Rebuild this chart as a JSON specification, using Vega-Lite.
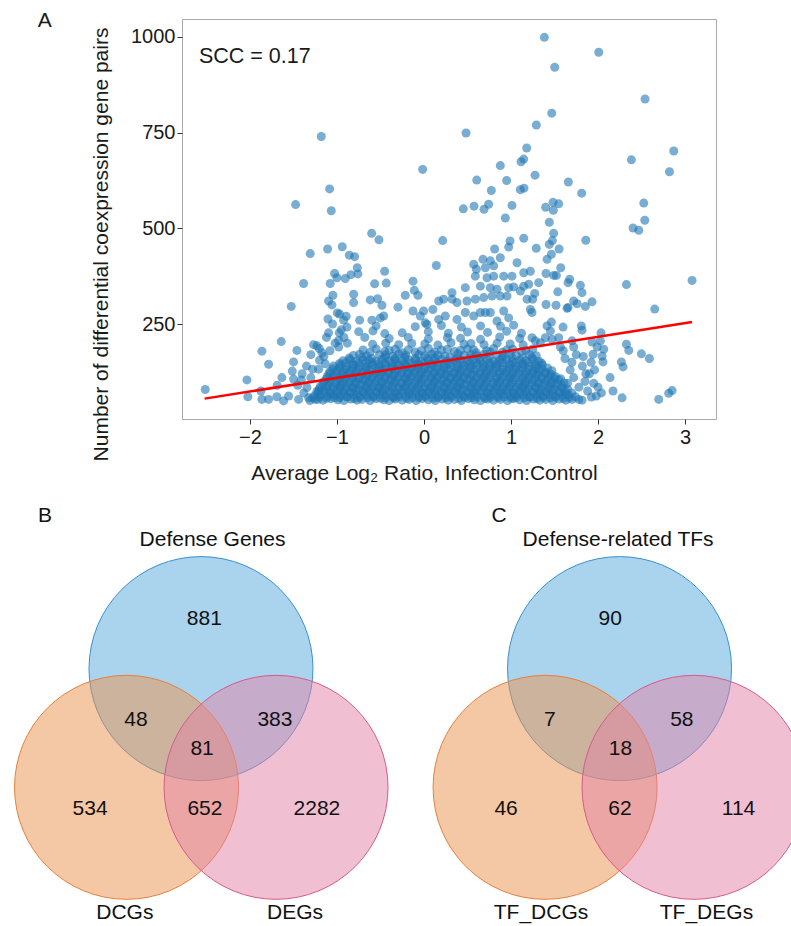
{
  "$schema": "https://vega.github.io/schema/vega-lite/v6.json",
  "background": "white",
  "padding": {"left": 12, "top": 9, "right": 0, "bottom": 0},
  "bounds": "flush",
  "spacing": 8,
  "config": {"font": "Liberation Sans", "view": {"stroke": null}},
  "datasets": {
    "scatter": [
      {"x":-1.31,"y":50},{"x":-1.22,"y":53},{"x":-1.16,"y":51},{"x":-1.07,"y":55},{"x":-0.99,"y":52},{"x":-0.92,"y":50},{"x":-0.84,"y":54},{"x":-0.77,"y":51},{"x":-0.71,"y":53},{"x":-0.62,"y":50},{"x":-0.55,"y":55},{"x":-0.46,"y":52},{"x":-0.40,"y":50},{"x":-0.33,"y":54},{"x":-0.25,"y":51},{"x":-0.17,"y":53},{"x":-0.09,"y":50},{"x":-0.02,"y":55},{"x":0.05,"y":52},{"x":0.13,"y":50},{"x":0.21,"y":54},{"x":0.28,"y":51},{"x":0.35,"y":53},{"x":0.43,"y":50},{"x":0.51,"y":55},{"x":0.58,"y":52},{"x":0.65,"y":50},{"x":0.73,"y":54},{"x":0.80,"y":51},{"x":0.88,"y":53},{"x":0.96,"y":50},{"x":1.03,"y":55},{"x":1.10,"y":52},{"x":1.18,"y":50},{"x":1.26,"y":54},{"x":1.33,"y":51},{"x":1.40,"y":53},{"x":1.48,"y":50},{"x":1.55,"y":54},{"x":1.63,"y":51},{"x":1.70,"y":53},
      {"x":-1.28,"y":57},{"x":-1.20,"y":59},{"x":-1.12,"y":56},{"x":-1.03,"y":58},{"x":-0.97,"y":57},{"x":-0.88,"y":59},{"x":-0.80,"y":56},{"x":-0.74,"y":58},{"x":-0.65,"y":57},{"x":-0.58,"y":59},{"x":-0.50,"y":56},{"x":-0.44,"y":58},{"x":-0.35,"y":57},{"x":-0.29,"y":59},{"x":-0.20,"y":56},{"x":-0.13,"y":58},{"x":-0.06,"y":57},{"x":0.02,"y":59},{"x":0.10,"y":56},{"x":0.16,"y":58},{"x":0.25,"y":57},{"x":0.31,"y":59},{"x":0.40,"y":56},{"x":0.47,"y":58},{"x":0.55,"y":57},{"x":0.61,"y":59},{"x":0.70,"y":56},{"x":0.76,"y":58},{"x":0.85,"y":57},{"x":0.92,"y":59},{"x":1.00,"y":56},{"x":1.06,"y":58},{"x":1.15,"y":57},{"x":1.22,"y":59},{"x":1.30,"y":56},{"x":1.37,"y":58},{"x":1.45,"y":57},{"x":1.51,"y":59},{"x":1.60,"y":56},{"x":1.67,"y":58},
      {"x":-1.26,"y":62},{"x":-1.19,"y":65},{"x":-1.11,"y":61},{"x":-1.04,"y":64},{"x":-0.96,"y":63},{"x":-0.89,"y":60},{"x":-0.81,"y":66},{"x":-0.74,"y":62},{"x":-0.66,"y":64},{"x":-0.59,"y":61},{"x":-0.51,"y":65},{"x":-0.44,"y":63},{"x":-0.36,"y":60},{"x":-0.29,"y":64},{"x":-0.21,"y":62},{"x":-0.14,"y":66},{"x":-0.06,"y":61},{"x":0.01,"y":63},{"x":0.09,"y":65},{"x":0.16,"y":60},{"x":0.24,"y":64},{"x":0.31,"y":62},{"x":0.39,"y":66},{"x":0.46,"y":61},{"x":0.54,"y":63},{"x":0.61,"y":65},{"x":0.69,"y":60},{"x":0.76,"y":64},{"x":0.84,"y":62},{"x":0.91,"y":66},{"x":0.99,"y":61},{"x":1.06,"y":63},{"x":1.14,"y":65},{"x":1.21,"y":60},{"x":1.29,"y":64},{"x":1.36,"y":62},{"x":1.44,"y":66},{"x":1.51,"y":61},{"x":1.59,"y":63},{"x":1.66,"y":65},{"x":1.74,"y":60},
      {"x":-1.22,"y":69},{"x":-1.14,"y":71},{"x":-1.07,"y":68},{"x":-0.99,"y":70},{"x":-0.92,"y":69},{"x":-0.84,"y":71},{"x":-0.77,"y":68},{"x":-0.69,"y":70},{"x":-0.62,"y":69},{"x":-0.54,"y":71},{"x":-0.47,"y":68},{"x":-0.39,"y":70},{"x":-0.32,"y":69},{"x":-0.24,"y":71},{"x":-0.17,"y":68},{"x":-0.09,"y":70},{"x":-0.02,"y":69},{"x":0.06,"y":71},{"x":0.13,"y":68},{"x":0.21,"y":70},{"x":0.28,"y":69},{"x":0.36,"y":71},{"x":0.43,"y":68},{"x":0.51,"y":70},{"x":0.58,"y":69},{"x":0.66,"y":71},{"x":0.73,"y":68},{"x":0.81,"y":70},{"x":0.88,"y":69},{"x":0.96,"y":71},{"x":1.03,"y":68},{"x":1.11,"y":70},{"x":1.18,"y":69},{"x":1.26,"y":71},{"x":1.33,"y":68},{"x":1.41,"y":70},{"x":1.48,"y":69},{"x":1.56,"y":71},{"x":1.63,"y":68},{"x":1.70,"y":70},
      {"x":-1.23,"y":74},{"x":-1.15,"y":77},{"x":-1.08,"y":73},{"x":-1.00,"y":76},{"x":-0.93,"y":75},{"x":-0.85,"y":72},{"x":-0.78,"y":78},{"x":-0.70,"y":74},{"x":-0.63,"y":76},{"x":-0.55,"y":73},{"x":-0.48,"y":77},{"x":-0.40,"y":75},{"x":-0.33,"y":72},{"x":-0.25,"y":76},{"x":-0.18,"y":74},{"x":-0.10,"y":78},{"x":-0.03,"y":73},{"x":0.05,"y":75},{"x":0.12,"y":77},{"x":0.20,"y":72},{"x":0.27,"y":76},{"x":0.35,"y":74},{"x":0.42,"y":78},{"x":0.50,"y":73},{"x":0.57,"y":75},{"x":0.65,"y":77},{"x":0.72,"y":72},{"x":0.80,"y":76},{"x":0.87,"y":74},{"x":0.95,"y":78},{"x":1.02,"y":73},{"x":1.10,"y":75},{"x":1.17,"y":77},{"x":1.25,"y":72},{"x":1.32,"y":76},{"x":1.40,"y":74},{"x":1.47,"y":78},{"x":1.55,"y":73},{"x":1.62,"y":75},
      {"x":-1.20,"y":81},{"x":-1.12,"y":83},{"x":-1.05,"y":80},{"x":-0.97,"y":82},{"x":-0.90,"y":81},{"x":-0.82,"y":83},{"x":-0.75,"y":80},{"x":-0.67,"y":82},{"x":-0.60,"y":81},{"x":-0.52,"y":83},{"x":-0.45,"y":80},{"x":-0.37,"y":82},{"x":-0.30,"y":81},{"x":-0.22,"y":83},{"x":-0.15,"y":80},{"x":-0.07,"y":82},{"x":0.00,"y":81},{"x":0.08,"y":83},{"x":0.15,"y":80},{"x":0.23,"y":82},{"x":0.30,"y":81},{"x":0.38,"y":83},{"x":0.45,"y":80},{"x":0.53,"y":82},{"x":0.60,"y":81},{"x":0.68,"y":83},{"x":0.75,"y":80},{"x":0.83,"y":82},{"x":0.90,"y":81},{"x":0.98,"y":83},{"x":1.05,"y":80},{"x":1.13,"y":82},{"x":1.20,"y":81},{"x":1.28,"y":83},{"x":1.35,"y":80},{"x":1.43,"y":82},{"x":1.50,"y":81},{"x":1.58,"y":83},{"x":1.65,"y":80},
      {"x":-1.19,"y":87},{"x":-1.11,"y":90},{"x":-1.04,"y":86},{"x":-0.96,"y":89},{"x":-0.89,"y":88},{"x":-0.81,"y":85},{"x":-0.74,"y":91},{"x":-0.66,"y":87},{"x":-0.59,"y":89},{"x":-0.51,"y":86},{"x":-0.44,"y":90},{"x":-0.36,"y":88},{"x":-0.29,"y":85},{"x":-0.21,"y":89},{"x":-0.14,"y":87},{"x":-0.06,"y":91},{"x":0.01,"y":86},{"x":0.09,"y":88},{"x":0.16,"y":90},{"x":0.24,"y":85},{"x":0.31,"y":89},{"x":0.39,"y":87},{"x":0.46,"y":91},{"x":0.54,"y":86},{"x":0.61,"y":88},{"x":0.69,"y":90},{"x":0.76,"y":85},{"x":0.84,"y":89},{"x":0.91,"y":87},{"x":0.99,"y":91},{"x":1.06,"y":86},{"x":1.14,"y":88},{"x":1.21,"y":90},{"x":1.29,"y":85},{"x":1.36,"y":89},{"x":1.44,"y":87},{"x":1.51,"y":91},{"x":1.59,"y":86},
      {"x":-1.16,"y":94},{"x":-1.09,"y":96},{"x":-1.01,"y":93},{"x":-0.94,"y":95},{"x":-0.86,"y":94},{"x":-0.79,"y":96},{"x":-0.71,"y":93},{"x":-0.64,"y":95},{"x":-0.56,"y":94},{"x":-0.49,"y":96},{"x":-0.41,"y":93},{"x":-0.34,"y":95},{"x":-0.26,"y":94},{"x":-0.19,"y":96},{"x":-0.11,"y":93},{"x":-0.04,"y":95},{"x":0.04,"y":94},{"x":0.11,"y":96},{"x":0.19,"y":93},{"x":0.26,"y":95},{"x":0.34,"y":94},{"x":0.41,"y":96},{"x":0.49,"y":93},{"x":0.56,"y":95},{"x":0.64,"y":94},{"x":0.71,"y":96},{"x":0.79,"y":93},{"x":0.86,"y":95},{"x":0.94,"y":94},{"x":1.01,"y":96},{"x":1.09,"y":93},{"x":1.16,"y":95},{"x":1.24,"y":94},{"x":1.31,"y":96},{"x":1.39,"y":93},{"x":1.46,"y":95},{"x":1.54,"y":94},{"x":1.61,"y":96},
      {"x":-1.15,"y":100},{"x":-1.08,"y":103},{"x":-1.00,"y":99},{"x":-0.93,"y":102},{"x":-0.85,"y":101},{"x":-0.78,"y":98},{"x":-0.70,"y":104},{"x":-0.63,"y":100},{"x":-0.55,"y":102},{"x":-0.48,"y":99},{"x":-0.40,"y":103},{"x":-0.33,"y":101},{"x":-0.25,"y":98},{"x":-0.18,"y":102},{"x":-0.10,"y":100},{"x":-0.03,"y":104},{"x":0.05,"y":99},{"x":0.12,"y":101},{"x":0.20,"y":103},{"x":0.27,"y":98},{"x":0.35,"y":102},{"x":0.42,"y":100},{"x":0.50,"y":104},{"x":0.57,"y":99},{"x":0.65,"y":101},{"x":0.72,"y":103},{"x":0.80,"y":98},{"x":0.87,"y":102},{"x":0.95,"y":100},{"x":1.02,"y":104},{"x":1.10,"y":99},{"x":1.17,"y":101},{"x":1.25,"y":103},{"x":1.32,"y":98},{"x":1.40,"y":102},{"x":1.47,"y":100},{"x":1.55,"y":104},
      {"x":-1.12,"y":107},{"x":-1.05,"y":109},{"x":-0.97,"y":106},{"x":-0.90,"y":108},{"x":-0.82,"y":107},{"x":-0.75,"y":109},{"x":-0.67,"y":106},{"x":-0.60,"y":108},{"x":-0.52,"y":107},{"x":-0.45,"y":109},{"x":-0.37,"y":106},{"x":-0.30,"y":108},{"x":-0.22,"y":107},{"x":-0.15,"y":109},{"x":-0.07,"y":106},{"x":0.00,"y":108},{"x":0.08,"y":107},{"x":0.15,"y":109},{"x":0.23,"y":106},{"x":0.30,"y":108},{"x":0.38,"y":107},{"x":0.45,"y":109},{"x":0.53,"y":106},{"x":0.60,"y":108},{"x":0.68,"y":107},{"x":0.75,"y":109},{"x":0.83,"y":106},{"x":0.90,"y":108},{"x":0.98,"y":107},{"x":1.05,"y":109},{"x":1.13,"y":106},{"x":1.20,"y":108},{"x":1.28,"y":107},{"x":1.35,"y":109},{"x":1.43,"y":106},{"x":1.50,"y":108},{"x":1.57,"y":107},
      {"x":-1.11,"y":113},{"x":-1.04,"y":116},{"x":-0.96,"y":112},{"x":-0.89,"y":115},{"x":-0.81,"y":114},{"x":-0.74,"y":111},{"x":-0.66,"y":117},{"x":-0.59,"y":113},{"x":-0.51,"y":115},{"x":-0.44,"y":112},{"x":-0.36,"y":116},{"x":-0.29,"y":114},{"x":-0.21,"y":111},{"x":-0.14,"y":115},{"x":-0.06,"y":113},{"x":0.01,"y":117},{"x":0.09,"y":112},{"x":0.16,"y":114},{"x":0.24,"y":116},{"x":0.31,"y":111},{"x":0.39,"y":115},{"x":0.46,"y":113},{"x":0.54,"y":117},{"x":0.61,"y":112},{"x":0.69,"y":114},{"x":0.76,"y":116},{"x":0.84,"y":111},{"x":0.91,"y":115},{"x":0.99,"y":113},{"x":1.06,"y":117},{"x":1.14,"y":112},{"x":1.21,"y":114},{"x":1.29,"y":116},{"x":1.36,"y":111},{"x":1.44,"y":115},{"x":1.51,"y":113},
      {"x":-1.09,"y":120},{"x":-1.01,"y":122},{"x":-0.94,"y":119},{"x":-0.86,"y":121},{"x":-0.79,"y":120},{"x":-0.71,"y":122},{"x":-0.64,"y":119},{"x":-0.56,"y":121},{"x":-0.49,"y":120},{"x":-0.41,"y":122},{"x":-0.34,"y":119},{"x":-0.26,"y":121},{"x":-0.19,"y":120},{"x":-0.11,"y":122},{"x":-0.04,"y":119},{"x":0.04,"y":121},{"x":0.11,"y":120},{"x":0.19,"y":122},{"x":0.26,"y":119},{"x":0.34,"y":121},{"x":0.41,"y":120},{"x":0.49,"y":122},{"x":0.56,"y":119},{"x":0.64,"y":121},{"x":0.71,"y":120},{"x":0.79,"y":122},{"x":0.86,"y":119},{"x":0.94,"y":121},{"x":1.01,"y":120},{"x":1.09,"y":122},{"x":1.16,"y":119},{"x":1.24,"y":121},{"x":1.31,"y":120},{"x":1.39,"y":122},{"x":1.46,"y":119},
      {"x":-1.08,"y":126},{"x":-1.00,"y":129},{"x":-0.93,"y":125},{"x":-0.85,"y":128},{"x":-0.78,"y":127},{"x":-0.70,"y":124},{"x":-0.63,"y":130},{"x":-0.55,"y":126},{"x":-0.48,"y":128},{"x":-0.40,"y":125},{"x":-0.33,"y":129},{"x":-0.25,"y":127},{"x":-0.18,"y":124},{"x":-0.10,"y":128},{"x":-0.03,"y":126},{"x":0.05,"y":130},{"x":0.12,"y":125},{"x":0.20,"y":127},{"x":0.27,"y":129},{"x":0.35,"y":124},{"x":0.42,"y":128},{"x":0.50,"y":126},{"x":0.57,"y":130},{"x":0.65,"y":125},{"x":0.72,"y":127},{"x":0.80,"y":129},{"x":0.87,"y":124},{"x":0.95,"y":128},{"x":1.02,"y":126},{"x":1.10,"y":130},{"x":1.17,"y":125},{"x":1.25,"y":127},{"x":1.32,"y":129},{"x":1.40,"y":124},{"x":1.47,"y":128},
      {"x":-1.05,"y":133},{"x":-0.97,"y":135},{"x":-0.90,"y":132},{"x":-0.82,"y":134},{"x":-0.75,"y":133},{"x":-0.67,"y":135},{"x":-0.60,"y":132},{"x":-0.52,"y":134},{"x":-0.45,"y":133},{"x":-0.37,"y":135},{"x":-0.30,"y":132},{"x":-0.22,"y":134},{"x":-0.15,"y":133},{"x":-0.07,"y":135},{"x":0.00,"y":132},{"x":0.08,"y":134},{"x":0.15,"y":133},{"x":0.23,"y":135},{"x":0.30,"y":132},{"x":0.38,"y":134},{"x":0.45,"y":133},{"x":0.53,"y":135},{"x":0.60,"y":132},{"x":0.68,"y":134},{"x":0.75,"y":133},{"x":0.83,"y":135},{"x":0.90,"y":132},{"x":0.98,"y":134},{"x":1.05,"y":133},{"x":1.13,"y":135},{"x":1.20,"y":132},{"x":1.28,"y":134},{"x":1.35,"y":133},{"x":1.42,"y":135},
      {"x":-1.04,"y":140},{"x":-0.96,"y":143},{"x":-0.89,"y":139},{"x":-0.81,"y":142},{"x":-0.74,"y":141},{"x":-0.66,"y":138},{"x":-0.59,"y":144},{"x":-0.51,"y":140},{"x":-0.44,"y":142},{"x":-0.36,"y":139},{"x":-0.29,"y":143},{"x":-0.21,"y":141},{"x":-0.14,"y":138},{"x":-0.06,"y":142},{"x":0.01,"y":140},{"x":0.09,"y":144},{"x":0.16,"y":139},{"x":0.24,"y":141},{"x":0.31,"y":143},{"x":0.39,"y":138},{"x":0.46,"y":142},{"x":0.54,"y":140},{"x":0.61,"y":144},{"x":0.69,"y":139},{"x":0.76,"y":141},{"x":0.84,"y":143},{"x":0.91,"y":138},{"x":0.99,"y":142},{"x":1.06,"y":140},{"x":1.14,"y":144},{"x":1.21,"y":139},{"x":1.29,"y":141},{"x":1.36,"y":143},
      {"x":-0.97,"y":147},{"x":-0.90,"y":149},{"x":-0.82,"y":146},{"x":-0.75,"y":148},{"x":-0.67,"y":147},{"x":-0.60,"y":149},{"x":-0.52,"y":146},{"x":-0.45,"y":148},{"x":-0.37,"y":147},{"x":-0.30,"y":149},{"x":-0.22,"y":146},{"x":-0.15,"y":148},{"x":-0.07,"y":147},{"x":0.00,"y":149},{"x":0.08,"y":146},{"x":0.15,"y":148},{"x":0.23,"y":147},{"x":0.30,"y":149},{"x":0.38,"y":146},{"x":0.45,"y":148},{"x":0.53,"y":147},{"x":0.60,"y":149},{"x":0.68,"y":146},{"x":0.75,"y":148},{"x":0.83,"y":147},{"x":0.90,"y":149},{"x":0.98,"y":146},{"x":1.05,"y":148},{"x":1.13,"y":147},{"x":1.20,"y":149},{"x":1.28,"y":146},{"x":1.35,"y":148},
      {"x":-0.93,"y":154},{"x":-0.85,"y":157},{"x":-0.78,"y":153},{"x":-0.70,"y":156},{"x":-0.63,"y":155},{"x":-0.55,"y":152},{"x":-0.48,"y":158},{"x":-0.40,"y":154},{"x":-0.33,"y":156},{"x":-0.25,"y":153},{"x":-0.18,"y":157},{"x":-0.10,"y":155},{"x":-0.03,"y":152},{"x":0.05,"y":156},{"x":0.12,"y":154},{"x":0.20,"y":158},{"x":0.27,"y":153},{"x":0.35,"y":155},{"x":0.42,"y":157},{"x":0.50,"y":152},{"x":0.57,"y":156},{"x":0.65,"y":154},{"x":0.72,"y":158},{"x":0.80,"y":153},{"x":0.87,"y":155},{"x":0.95,"y":157},{"x":1.02,"y":152},{"x":1.10,"y":156},{"x":1.17,"y":154},{"x":1.25,"y":158},{"x":1.32,"y":153},
      {"x":-0.86,"y":161},{"x":-0.71,"y":163},{"x":-0.60,"y":160},{"x":-0.45,"y":162},{"x":-0.33,"y":161},{"x":-0.22,"y":163},{"x":-0.10,"y":160},{"x":0.04,"y":162},{"x":0.13,"y":161},{"x":0.30,"y":163},{"x":0.38,"y":160},{"x":0.53,"y":162},{"x":0.64,"y":161},{"x":0.75,"y":163},{"x":0.90,"y":160},{"x":1.01,"y":162},{"x":1.13,"y":161},{"x":1.24,"y":163},
      {"x":-0.81,"y":168},{"x":-0.74,"y":171},{"x":-0.66,"y":167},{"x":-0.51,"y":170},{"x":-0.44,"y":169},{"x":-0.36,"y":166},{"x":-0.29,"y":172},{"x":-0.21,"y":168},{"x":-0.06,"y":170},{"x":0.01,"y":167},{"x":0.09,"y":171},{"x":0.16,"y":169},{"x":0.24,"y":166},{"x":0.39,"y":172},{"x":0.46,"y":168},{"x":0.54,"y":170},{"x":0.61,"y":167},{"x":0.69,"y":171},{"x":0.84,"y":169},{"x":0.91,"y":166},{"x":0.99,"y":172},{"x":1.06,"y":168},{"x":1.21,"y":170},{"x":1.29,"y":167},
      {"x":-0.62,"y":176},{"x":-0.45,"y":178},{"x":-0.25,"y":175},{"x":-0.10,"y":177},{"x":0.12,"y":176},{"x":0.35,"y":178},{"x":0.60,"y":175},{"x":0.76,"y":177},{"x":0.90,"y":176},{"x":1.12,"y":178},
      {"x":-0.70,"y":182},{"x":-0.55,"y":185},{"x":-0.40,"y":181},{"x":-0.33,"y":184},{"x":-0.18,"y":183},{"x":-0.03,"y":180},{"x":0.05,"y":186},{"x":0.20,"y":182},{"x":0.27,"y":184},{"x":0.42,"y":181},{"x":0.50,"y":185},{"x":0.57,"y":183},{"x":0.72,"y":180},{"x":0.80,"y":186},{"x":0.95,"y":182},{"x":1.02,"y":184},{"x":1.17,"y":181},{"x":1.25,"y":185},
      {"x":-0.59,"y":197},{"x":-0.44,"y":200},{"x":-0.29,"y":196},{"x":-0.14,"y":199},{"x":0.01,"y":198},{"x":0.16,"y":195},{"x":0.31,"y":201},{"x":0.46,"y":197},{"x":0.54,"y":199},{"x":0.69,"y":196},{"x":0.84,"y":200},{"x":0.99,"y":198},{"x":1.14,"y":195},
      {"x":-0.40,"y":212},{"x":-0.18,"y":215},{"x":0.05,"y":211},{"x":0.27,"y":214},{"x":0.42,"y":213},{"x":0.65,"y":210},{"x":0.87,"y":216},{"x":1.10,"y":212},
      {"x":-0.25,"y":227},{"x":0.05,"y":230},{"x":0.28,"y":226},{"x":0.50,"y":229},{"x":0.73,"y":228},{"x":0.95,"y":231},{"x":1.12,"y":226},
      {"x":-0.10,"y":243},{"x":0.20,"y":246},{"x":0.43,"y":242},{"x":0.65,"y":245},{"x":0.88,"y":244},{"x":1.03,"y":247},
      {"x":-1.18,"y":740},{"x":-0.015,"y":654},{"x":-1.084,"y":603},{"x":-1.475,"y":562},{"x":-1.065,"y":546},{"x":-0.601,"y":487},{"x":-0.517,"y":470},{"x":0.215,"y":468},{"x":-0.939,"y":452},{"x":-1.107,"y":446},{"x":-1.307,"y":434},{"x":-0.858,"y":430},{"x":-0.797,"y":426},
      {"x":1.383,"y":999},{"x":2.008,"y":960},{"x":1.502,"y":921},{"x":2.54,"y":838},{"x":1.468,"y":801},{"x":1.291,"y":770},{"x":0.483,"y":749},{"x":1.18,"y":710},{"x":1.146,"y":681},{"x":1.115,"y":674},{"x":0.877,"y":664},{"x":2.383,"y":679},{"x":2.87,"y":702},{"x":2.82,"y":648},{"x":1.276,"y":639},{"x":0.606,"y":626},{"x":0.95,"y":625},{"x":1.659,"y":621},{"x":0.774,"y":599},{"x":1.107,"y":601},{"x":1.149,"y":605},{"x":1.812,"y":592},{"x":2.525,"y":566},{"x":0.452,"y":551},{"x":0.575,"y":558},{"x":0.69,"y":550},{"x":0.743,"y":563},{"x":1.011,"y":560},{"x":1.398,"y":555},{"x":1.483,"y":568},{"x":1.548,"y":564},{"x":1.486,"y":547},{"x":2.537,"y":521},{"x":0.935,"y":527},{"x":1.44,"y":516},{"x":2.402,"y":501},{"x":2.468,"y":495},{"x":1.49,"y":487},{"x":0.989,"y":467},{"x":1.146,"y":474},{"x":1.475,"y":468},{"x":1.44,"y":458},{"x":1.859,"y":469},{"x":0.973,"y":451},{"x":0.812,"y":446},{"x":1.29,"y":448},{"x":1.552,"y":446},
      {"x":0.142,"y":403},{"x":0.571,"y":406},{"x":0.602,"y":393},{"x":0.678,"y":419},{"x":0.705,"y":397},{"x":0.762,"y":415},{"x":0.801,"y":402},{"x":0.877,"y":423},{"x":1.069,"y":410},{"x":1.464,"y":432},{"x":1.414,"y":419},{"x":1.571,"y":397},
      {"x":-0.766,"y":397},{"x":-1.027,"y":382},{"x":-1.0,"y":371},{"x":-0.904,"y":369},{"x":-0.839,"y":379},{"x":-0.759,"y":381},{"x":-0.452,"y":388},{"x":-1.383,"y":356},{"x":-1.077,"y":356},{"x":-0.567,"y":355},{"x":-0.433,"y":357},{"x":-1.046,"y":325},{"x":-0.808,"y":328},{"x":-0.617,"y":313},{"x":-0.533,"y":316},{"x":-1.525,"y":296},{"x":-1.096,"y":310},{"x":-1.057,"y":300},{"x":-0.808,"y":306},{"x":-0.299,"y":294},{"x":-0.969,"y":276},{"x":-1.103,"y":263},{"x":-0.923,"y":260},{"x":-0.739,"y":260},{"x":-0.893,"y":270},{"x":-0.996,"y":279},
      {"x":-0.126,"y":362},{"x":-0.111,"y":338},{"x":-0.069,"y":325},{"x":-0.215,"y":325},{"x":-0.483,"y":299},{"x":-0.598,"y":260},{"x":-0.502,"y":266},{"x":-0.463,"y":271},{"x":-0.042,"y":271},{"x":0.015,"y":253},{"x":0.034,"y":249},{"x":0.103,"y":288},{"x":0.169,"y":310},{"x":0.226,"y":315},{"x":0.322,"y":315},{"x":0.379,"y":306},{"x":0.169,"y":262},{"x":0.245,"y":271},{"x":0.379,"y":262},{"x":-0.126,"y":284},{"x":-0.004,"y":284},{"x":0.322,"y":332},
      {"x":0.475,"y":345},{"x":0.59,"y":375},{"x":0.724,"y":371},{"x":0.801,"y":375},{"x":0.916,"y":375},{"x":1.011,"y":375},{"x":1.146,"y":384},{"x":1.222,"y":388},{"x":0.494,"y":310},{"x":0.59,"y":315},{"x":0.686,"y":319},{"x":0.762,"y":345},{"x":0.782,"y":323},{"x":0.839,"y":341},{"x":0.877,"y":323},{"x":0.954,"y":323},{"x":0.973,"y":345},{"x":1.107,"y":336},{"x":1.146,"y":349},{"x":1.184,"y":315},{"x":1.222,"y":288},{"x":1.241,"y":280},{"x":0.475,"y":280},{"x":0.571,"y":271},{"x":0.648,"y":280},{"x":0.705,"y":280},{"x":0.762,"y":280},{"x":0.839,"y":258},{"x":0.916,"y":284},{"x":0.973,"y":266},
      {"x":1.402,"y":382},{"x":1.49,"y":377},{"x":1.521,"y":377},{"x":1.674,"y":367},{"x":1.655,"y":358},{"x":1.318,"y":358},{"x":1.797,"y":351},{"x":1.816,"y":332},{"x":1.537,"y":334},{"x":1.272,"y":330},{"x":2.326,"y":353},{"x":3.08,"y":364},{"x":1.402,"y":301},{"x":1.517,"y":299},{"x":1.644,"y":291},{"x":1.72,"y":310},{"x":1.759,"y":303},{"x":1.854,"y":296},{"x":1.931,"y":308},{"x":2.651,"y":289},{"x":1.414,"y":245},{"x":1.464,"y":255},{"x":1.452,"y":232},{"x":1.395,"y":214},{"x":1.598,"y":242},{"x":1.808,"y":245},{"x":1.816,"y":234},{"x":0.648,"y":349},{"x":1.031,"y":347},{"x":1.203,"y":354},{"x":1.249,"y":315},{"x":1.655,"y":293},
      {"x":-1.64,"y":204},{"x":-1.268,"y":196},{"x":-1.23,"y":193},{"x":-1.862,"y":179},{"x":-1.46,"y":181},{"x":-1.785,"y":145},{"x":-1.498,"y":151},{"x":-1.134,"y":146},{"x":-1.632,"y":110},{"x":-1.498,"y":106},{"x":-2.034,"y":104},{"x":-2.513,"y":79},{"x":-2.023,"y":60},{"x":-1.862,"y":53},{"x":-1.785,"y":53},{"x":-1.69,"y":60},{"x":-1.613,"y":49},{"x":-1.555,"y":62},{"x":-1.44,"y":53},{"x":-1.874,"y":75},{"x":-1.686,"y":90},{"x":-1.513,"y":127},{"x":-1.41,"y":104},{"x":-1.345,"y":84},{"x":-1.203,"y":186},{"x":-1.172,"y":175},{"x":-1.279,"y":132},{"x":-1.21,"y":132},{"x":-1.325,"y":57},{"x":-1.249,"y":53},{"x":-1.21,"y":75},{"x":-0.981,"y":207},{"x":-1.096,"y":227},{"x":-0.885,"y":242},{"x":-0.586,"y":232},{"x":-0.973,"y":227},
      {"x":2.034,"y":227},{"x":2.027,"y":206},{"x":1.931,"y":203},{"x":1.989,"y":190},{"x":2.065,"y":184},{"x":2.046,"y":166},{"x":2.057,"y":151},{"x":1.943,"y":171},{"x":2.326,"y":197},{"x":2.353,"y":181},{"x":2.498,"y":172},{"x":2.59,"y":160},{"x":2.268,"y":151},{"x":2.287,"y":138},{"x":2.138,"y":110},{"x":2.172,"y":75},{"x":2.038,"y":70},{"x":2.276,"y":57},{"x":2.697,"y":53},{"x":2.812,"y":69},{"x":2.851,"y":76},{"x":1.923,"y":59},{"x":1.816,"y":51},{"x":1.778,"y":53},{"x":1.241,"y":214},{"x":1.279,"y":206},{"x":1.337,"y":201},{"x":1.471,"y":210},{"x":1.548,"y":214},{"x":1.567,"y":190},{"x":1.701,"y":206},
      {"x":1.62,"y":160},{"x":1.7,"y":150},{"x":1.75,"y":170},{"x":1.82,"y":140},{"x":1.9,"y":120},{"x":1.95,"y":95},{"x":1.85,"y":100},{"x":1.78,"y":85},{"x":1.68,"y":130},{"x":1.88,"y":75},{"x":1.98,"y":62},{"x":1.72,"y":110},{"x":1.65,"y":95},{"x":2.0,"y":85},{"x":1.92,"y":150},{"x":1.83,"y":165},{"x":1.6,"y":180},{"x":1.72,"y":190},{"x":1.96,"y":130},{"x":1.86,"y":120},
      {"x":-1.05,"y":250},{"x":-0.95,"y":235},{"x":-1.12,"y":215},{"x":-1.02,"y":200},{"x":-0.92,"y":215},{"x":-1.15,"y":165},{"x":-1.08,"y":180},{"x":-0.98,"y":190},{"x":-0.88,"y":200},{"x":-1.2,"y":155},{"x":-1.3,"y":170},{"x":-1.35,"y":140},{"x":-1.4,"y":120},{"x":-1.3,"y":110},{"x":-1.45,"y":90},{"x":-1.38,"y":70},{"x":-0.75,"y":230},{"x":-0.68,"y":215},{"x":-0.55,"y":245},{"x":-0.45,"y":225}
    ],
    "circles": [
      {"set":"Defense Genes","grp":"top","u":0,"v":0.70},
      {"set":"DCGs","grp":"left","u":-0.665,"v":-0.36},
      {"set":"DEGs","grp":"right","u":0.67,"v":-0.36},
      {"set":"Defense-related TFs","grp":"top","u":3.737,"v":0.70},
      {"set":"TF_DCGs","grp":"left","u":3.072,"v":-0.36},
      {"set":"TF_DEGs","grp":"right","u":4.402,"v":-0.36}
    ],
    "vlabels": [
      {"label":"B","u":-1.393,"v":2.064},
      {"label":"Defense Genes","u":0.103,"v":1.85},
      {"label":"881","u":0.03,"v":1.14},
      {"label":"48","u":-0.58,"v":0.24},
      {"label":"383","u":0.66,"v":0.24},
      {"label":"81","u":0.01,"v":-0.02},
      {"label":"534","u":-0.99,"v":-0.555},
      {"label":"652","u":0.035,"v":-0.555},
      {"label":"2282","u":1.035,"v":-0.555},
      {"label":"DCGs","u":-0.68,"v":-1.48},
      {"label":"DEGs","u":0.84,"v":-1.48},
      {"label":"C","u":2.661,"v":2.064},
      {"label":"Defense-related TFs","u":3.724,"v":1.85},
      {"label":"90","u":3.654,"v":1.14},
      {"label":"7","u":3.115,"v":0.24},
      {"label":"58","u":4.293,"v":0.24},
      {"label":"18","u":3.745,"v":-0.02},
      {"label":"46","u":2.724,"v":-0.555},
      {"label":"62","u":3.741,"v":-0.555},
      {"label":"114","u":4.799,"v":-0.555},
      {"label":"TF_DCGs","u":3.036,"v":-1.48},
      {"label":"TF_DEGs","u":4.513,"v":-1.48}
    ]
  },
  "vconcat": [
    {
      "width": 534,
      "height": 400,
      "view": {"stroke": "#aaaaaa", "strokeWidth": 1},
      "layer": [
        {
          "data": {"name": "scatter"},
          "mark": {"type": "circle", "size": 81, "color": "#1f77b4", "opacity": 0.6},
          "encoding": {
            "x": {"field": "x", "type": "quantitative",
              "scale": {"domain": [-2.78, 3.355], "nice": false, "zero": false},
              "axis": {"title": "Average Log₂ Ratio, Infection:Control", "values": [-2, -1, 0, 1, 2, 3], "format": "d",
                "grid": false, "domain": false, "tickColor": "#333333", "tickSize": 5,
                "labelFontSize": 20, "labelColor": "#1a1a1a", "labelPadding": 3,
                "titleFontSize": 21, "titleFontWeight": "normal", "titleColor": "#1a1a1a",
                "titleX": 242, "titleY": 60, "titleBaseline": "alphabetic", "titleAlign": "center"}},
            "y": {"field": "y", "type": "quantitative",
              "scale": {"domain": [1.8, 1047], "nice": false, "zero": false},
              "axis": {"title": "Number of differential coexpression gene pairs", "values": [250, 500, 750, 1000], "format": "d",
                "grid": false, "domain": false, "tickColor": "#333333", "tickSize": 5,
                "labelFontSize": 20, "labelColor": "#1a1a1a", "labelPadding": 2,
                "titleFontSize": 21, "titleFontWeight": "normal", "titleColor": "#1a1a1a",
                "titleX": -75, "titleY": 225, "titleBaseline": "alphabetic", "titleAlign": "center", "titleAngle": -90}}
          }
        },
        {
          "data": {"values": [{"x": -2.52, "y": 55}, {"x": 3.08, "y": 255}]},
          "mark": {"type": "line", "color": "#ff0000", "strokeWidth": 2.5},
          "encoding": {
            "x": {"field": "x", "type": "quantitative"},
            "y": {"field": "y", "type": "quantitative"}
          }
        },
        {
          "data": {"values": [{"label": "SCC = 0.17", "x": -2.586, "y": 948}]},
          "mark": {"type": "text", "align": "left", "baseline": "middle", "fontSize": 21.5, "color": "#1a1a1a"},
          "encoding": {
            "x": {"field": "x", "type": "quantitative"},
            "y": {"field": "y", "type": "quantitative"},
            "text": {"field": "label"}
          }
        },
        {
          "data": {"values": [{"label": "A", "x": -4.356, "y": 1043}]},
          "mark": {"type": "text", "align": "center", "baseline": "middle", "fontSize": 21, "color": "#1a1a1a"},
          "encoding": {
            "x": {"field": "x", "type": "quantitative"},
            "y": {"field": "y", "type": "quantitative"},
            "text": {"field": "label"}
          }
        }
      ]
    },
    {
      "width": 611,
      "height": 500,
      "layer": [
        {
          "data": {"name": "circles"},
          "mark": {"type": "point", "shape": "circle", "filled": true, "size": 50176, "opacity": 1, "fillOpacity": 0.5, "strokeOpacity": 1, "strokeWidth": 1},
          "encoding": {
            "x": {"field": "u", "type": "quantitative", "scale": {"domain": [-0.1696, 5.2857], "nice": false, "zero": false}, "axis": null},
            "y": {"field": "v", "type": "quantitative", "scale": {"domain": [-1.607, 2.857], "nice": false, "zero": false}, "axis": null},
            "fill": {"field": "grp", "type": "nominal", "scale": {"domain": ["top", "left", "right"], "range": ["#55a9dd", "#eb914b", "#e181a5"]}, "legend": null},
            "stroke": {"field": "grp", "type": "nominal", "scale": {"domain": ["top", "left", "right"], "range": ["#3a8fd0", "#e8803a", "#d65a8c"]}, "legend": null}
          }
        },
        {
          "data": {"name": "vlabels"},
          "mark": {"type": "text", "align": "center", "baseline": "middle", "fontSize": 21, "color": "#111111"},
          "encoding": {
            "x": {"field": "u", "type": "quantitative", "scale": {"domain": [-0.1696, 5.2857], "nice": false, "zero": false}, "axis": null},
            "y": {"field": "v", "type": "quantitative", "scale": {"domain": [-1.607, 2.857], "nice": false, "zero": false}, "axis": null},
            "text": {"field": "label"}
          }
        }
      ]
    }
  ]
}
